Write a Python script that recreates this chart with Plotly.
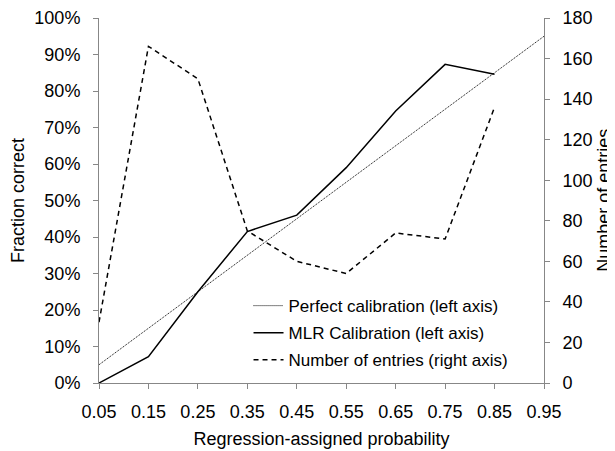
import plotly.graph_objects as go

x_perfect = [0.05, 0.15, 0.25, 0.35, 0.45, 0.55, 0.65, 0.75, 0.85, 0.95]
perfect = [0.05, 0.15, 0.25, 0.35, 0.45, 0.55, 0.65, 0.75, 0.85, 0.95]
x_bins = [0.05, 0.15, 0.25, 0.35, 0.45, 0.55, 0.65, 0.75, 0.85]
mlr = [0.0, 0.072, 0.25, 0.415, 0.46, 0.59, 0.745, 0.873, 0.846]
entries = [30, 166, 150, 75, 60, 54, 74, 71, 136]
x_ticks = [0.05, 0.15, 0.25, 0.35, 0.45, 0.55, 0.65, 0.75, 0.85, 0.95]
x_ticklabels = ["0.05", "0.15", "0.25", "0.35", "0.45", "0.55", "0.65", "0.75", "0.85", "0.95"]

FONT = "Liberation Sans, Arial, sans-serif"
AX = "#878787"
TICKFONT = dict(family=FONT, size=18, color="black")
TITLEFONT = dict(family=FONT, size=18, color="black")

fig = go.Figure()
fig.add_trace(go.Scatter(x=x_perfect, y=perfect, mode="lines", name="Perfect calibration (left axis)",
                         line=dict(color="black", width=1, dash="1px,1px"), legendgroup="a"))
fig.add_trace(go.Scatter(x=x_bins, y=mlr, mode="lines", name="MLR Calibration (left axis)",
                         line=dict(color="black", width=1.5), legendgroup="b"))
fig.add_trace(go.Scatter(x=x_bins, y=entries, mode="lines", name="Number of entries (right axis)",
                         line=dict(color="black", width=1.5, dash="5px,4px"), yaxis="y2", legendgroup="c"))

fig.update_layout(
    width=607, height=443,
    margin=dict(l=91, r=71, t=10, b=68, autoexpand=False),
    paper_bgcolor="white", plot_bgcolor="white",
    font=dict(family=FONT, size=17, color="black"),
    showlegend=True,
    legend=dict(x=0.336, y=0.26, xanchor="left", yanchor="top", bgcolor="rgba(0,0,0,0)",
                traceorder="grouped", tracegroupgap=2, font=dict(family=FONT, size=17)),
    xaxis=dict(range=[0.05, 0.95], tickvals=x_ticks, ticktext=x_ticklabels, showgrid=False,
               zeroline=False, showline=True, linecolor=AX, linewidth=1, ticks="outside",
               tickcolor=AX, ticklen=5, tickfont=TICKFONT, ticklabelstandoff=7,
               ticklabeloverflow="allow", automargin=False,
               title=dict(text="Regression-assigned probability", standoff=11, font=TITLEFONT)),
    yaxis=dict(range=[0, 1], dtick=0.1, tickformat=".0%", showgrid=False, zeroline=False,
               showline=True, linecolor=AX, linewidth=1, ticks="outside", tickcolor=AX, ticklen=5,
               tickfont=TICKFONT, ticklabelstandoff=9, ticklabeloverflow="allow", automargin=False,
               title=dict(text="Fraction correct", standoff=13, font=TITLEFONT)),
    yaxis2=dict(range=[0, 180], dtick=20, overlaying="y", side="right", showgrid=False, zeroline=False,
                showline=True, linecolor=AX, linewidth=1, ticks="outside", tickcolor=AX, ticklen=5,
                tickfont=TICKFONT, ticklabelstandoff=9, ticklabeloverflow="allow", automargin=False),
    annotations=[dict(text="Number of entries", xref="paper", yref="paper", x=1.133, y=0.5,
                      xanchor="center", yanchor="middle", textangle=-90, showarrow=False,
                      font=TITLEFONT)],
)

fig.write_html("out.html")
